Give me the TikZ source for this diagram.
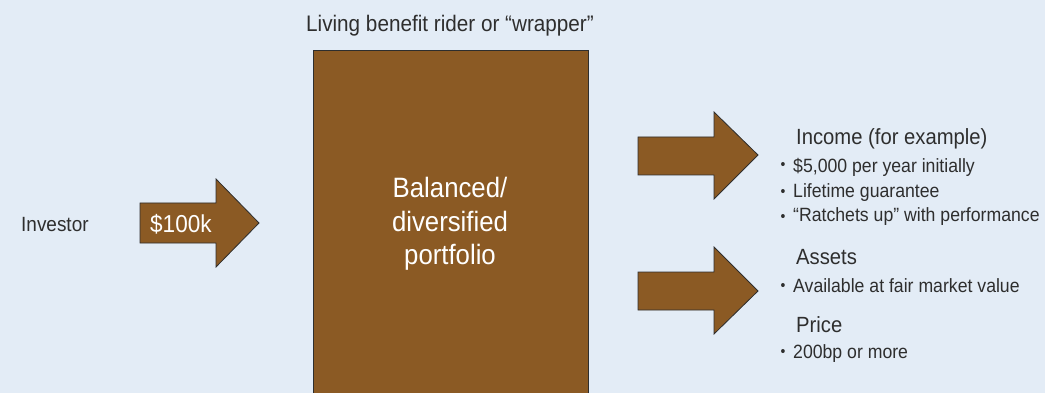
\documentclass[tikz,border=0pt]{standalone}
\usepackage{fontspec}
\setmainfont[FakeStretch=0.92]{Liberation Sans}
\definecolor{bg}{HTML}{E3ECF6}
\definecolor{brown}{HTML}{8B5A24}
\definecolor{ink}{HTML}{2E2E2E}
\begin{document}
\begin{tikzpicture}[x=1pt,y=-1pt,
  shape fill/.style={fill=brown,draw=ink,line width=0.8pt,line join=miter},
  label text/.style={text=ink,inner sep=0pt,font=\fontsize{22.5}{26}\selectfont},
  head text/.style={text=ink,inner sep=0pt,font=\fontsize{22}{26}\selectfont},
  item text/.style={text=ink,inner sep=0pt,font=\fontsize{19.2}{22}\selectfont},
  dot/.style={text=ink,inner sep=0pt,anchor=base,font=\fontsize{15}{17}\selectfont}]
  % background
  \fill[bg] (0,0) rectangle (1045,393);
  \useasboundingbox (0,0) rectangle (1045,393);

  % wrapper box
  \draw[shape fill] (313,50) -- (588,50) -- (588,400) -- (313,400) -- cycle;
  \node[label text,anchor=base] (wrap) at (450,32) {Living benefit rider or “wrapper”};
  \node[text=white,inner sep=0pt,anchor=base,font=\fontsize{28}{33}\selectfont]
    (port1) at (450,198) {Balanced/};
  \node[text=white,inner sep=0pt,anchor=base,font=\fontsize{28}{33}\selectfont]
    (port2) at (450,231) {diversified};
  \node[text=white,inner sep=0pt,anchor=base,font=\fontsize{28}{33}\selectfont]
    (port3) at (450,264) {portfolio};

  % input arrow
  \draw[shape fill] (140,203) -- (216,203) -- (216,179) -- (259,223)
    -- (216,267) -- (216,243) -- (140,243) -- cycle;
  \node[label text,font=\fontsize{20.6}{24}\selectfont,anchor=base west] (inv) at (21,231) {Investor};
  \node[text=white,inner sep=0pt,anchor=base west,font=\fontsize{24.5}{28}\selectfont]
    (amt) at (150,233) {\$100k};

  % income arrow
  \draw[shape fill] (638,137) -- (714,137) -- (714,112) -- (758,155)
    -- (714,199) -- (714,175) -- (638,175) -- cycle;
  % assets arrow
  \draw[shape fill] (638,272) -- (714,272) -- (714,247) -- (758,291)
    -- (714,334) -- (714,310) -- (638,310) -- cycle;

  % income list
  \node[head text,anchor=base west] (inc) at (796,145) {Income (for example)};
  \node[dot] (d1) at (783,170) {•};
  \node[item text,anchor=base west] (i1) at (793,173) {\$5,000 per year initially};
  \node[dot] (d2) at (783,196.5) {•};
  \node[item text,anchor=base west] (i2) at (793,198) {Lifetime guarantee};
  \node[dot] (d3) at (783,221.5) {•};
  \node[item text,anchor=base west] (i3) at (793,222) {“Ratchets up” with performance};

  % assets list
  \node[head text,anchor=base west] (ast) at (796,265) {Assets};
  \node[dot] (d4) at (783,290) {•};
  \node[item text,anchor=base west] (a1) at (793,292) {Available at fair market value};
  \node[head text,anchor=base west] (prc) at (796,332) {Price};
  \node[dot] (d5) at (783,356) {•};
  \node[item text,anchor=base west] (p1) at (793,358) {200bp or more};
\end{tikzpicture}
\end{document}
